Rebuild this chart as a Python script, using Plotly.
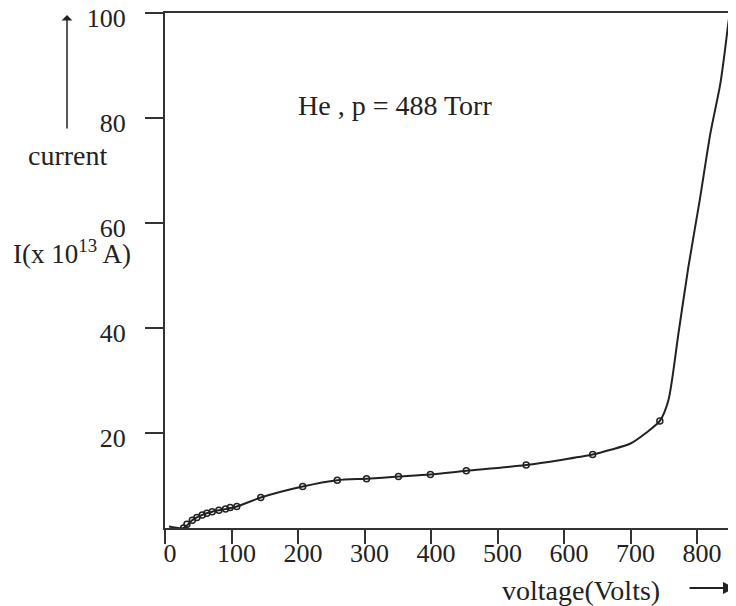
import plotly.graph_objects as go

# measured points (open circles)
measured_v = [28, 33, 41, 48, 56, 63, 71, 81, 91, 98, 108, 144, 207, 259, 303, 351, 399, 453, 543, 643, 744]
measured_i = [1.9, 2.6, 3.4, 3.9, 4.4, 4.7, 5.0, 5.3, 5.5, 5.8, 6.0, 7.7, 9.8, 11.0, 11.3, 11.7, 12.1, 12.8, 13.9, 15.9, 22.3]

# smooth curve through the points
curve_v = [6, 28, 41, 56, 71, 91, 108, 144, 207, 259, 303, 351, 399, 453, 543, 643, 670, 700, 723, 744, 757, 772, 787, 804, 820, 835, 842, 848, 850]
curve_i = [2.2, 1.9, 3.4, 4.4, 5.0, 5.5, 6.0, 7.7, 9.8, 11.0, 11.3, 11.7, 12.1, 12.8, 13.9, 15.9, 16.8, 18.0, 20.0, 22.3, 26.3, 39.0, 51.7, 64.4, 77.1, 86.6, 93.0, 99.0, 100.0]

x_ticks = [0, 100, 200, 300, 400, 500, 600, 700, 800]
y_ticks = [20, 40, 60, 80, 100]

FONT = "Liberation Serif"
INK = "#222222"

fig = go.Figure()
fig.add_trace(go.Scatter(x=curve_v, y=curve_i, mode="lines",
                         line=dict(color=INK, width=2, shape="spline", smoothing=0.7),
                         hoverinfo="skip", showlegend=False))
fig.add_trace(go.Scatter(x=measured_v, y=measured_i, mode="markers",
                         marker=dict(symbol="circle-open", size=6, color=INK, line=dict(width=1.5)),
                         showlegend=False))

# the page places the figure 8px from the top-left corner of the window
fig.update_layout(
    width=728, height=598,
    margin=dict(l=157, r=5, t=5, b=78),
    paper_bgcolor="white", plot_bgcolor="white",
    font=dict(family=FONT, size=26, color=INK),
    xaxis=dict(range=[0, 851], tickvals=x_ticks, ticktext=[str(v) for v in x_ticks],
               automargin=False,
               showgrid=False, zeroline=False, showline=True, linecolor="#333333", linewidth=2,
               mirror=True, ticks="outside", ticklen=14, tickwidth=2, tickcolor="#333333",
               ticklabelshift=5, ticklabelstandoff=-13, ticklabeloverflow="allow",
               tickfont=dict(family=FONT, size=26, color=INK)),
    yaxis=dict(range=[1.9, 100.05], tickvals=y_ticks, ticktext=[str(v) for v in y_ticks],
               automargin=False,
               showgrid=False, zeroline=False, showline=True, linecolor="#333333", linewidth=2,
               mirror=True, ticks="outside", ticklen=18, tickwidth=2, tickcolor="#333333",
               ticklabelshift=5, ticklabelstandoff=14, ticklabeloverflow="allow",
               tickfont=dict(family=FONT, size=26, color=INK)),
)

def px(x):
    return (x - 165) / 566

def py(y):
    return (528 - y) / 515

ann = [
    dict(text="He , p = 488 Torr", x=px(395), y=py(105), font=dict(family=FONT, size=28, color=INK)),
    dict(text="current", x=px(68), y=py(155), font=dict(family=FONT, size=28, color=INK)),
    dict(text="I(x 10<sup>13</sup> A)", x=px(72), y=py(252), font=dict(family=FONT, size=27, color=INK)),
    dict(text="voltage(Volts)", x=px(581), y=py(590), font=dict(family=FONT, size=28, color=INK)),
]
for a in ann:
    fig.add_annotation(xref="paper", yref="paper", xanchor="center", yanchor="middle",
                       showarrow=False, **a)

# axis direction arrows
fig.add_annotation(xref="paper", yref="paper", x=px(67), y=py(15), text="",
                   showarrow=True, ax=0, ay=115, arrowhead=1, arrowsize=1.2,
                   arrowwidth=1.5, arrowcolor=INK)
fig.add_annotation(xref="paper", yref="paper", x=px(735), y=py(588), text="",
                   showarrow=True, ax=-47, ay=0, arrowhead=2, arrowsize=1.2,
                   arrowwidth=2, arrowcolor=INK)

fig.write_html("out.html")
